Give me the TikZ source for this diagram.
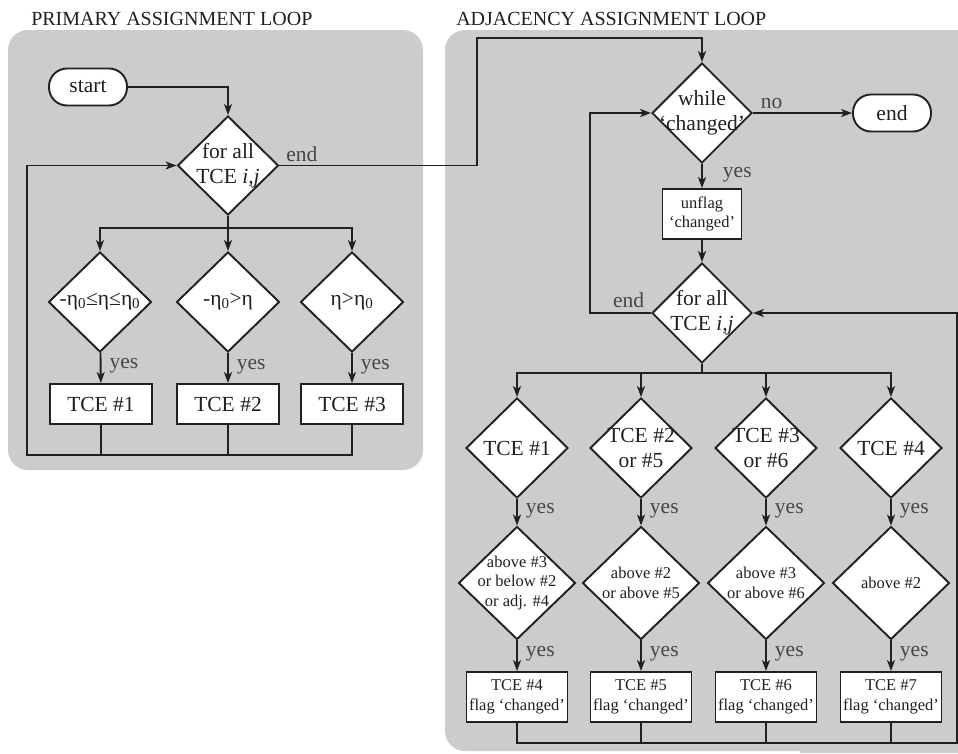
\documentclass[tikz,border=0pt]{standalone}
\usepackage{fontspec}
\setmainfont{Liberation Serif}
\usetikzlibrary{shapes.geometric,arrows.meta}
\definecolor{panel}{RGB}{204,204,204}
\definecolor{ink}{RGB}{32,32,32}
\definecolor{lblgray}{RGB}{70,70,70}

\begin{document}
\begin{tikzpicture}[x=1pt,y=-1pt,color=ink,line width=1.9pt,
    font=\rmfamily\fontsize{21.5}{25}\selectfont,
    dec/.style n args={3}{diamond,draw=ink,fill=white,inner sep=0pt,minimum width=#1,minimum height=#2,
        label={[align=center]center:{#3}}},
    sdec/.style n args={3}{diamond,draw=ink,fill=white,inner sep=0pt,minimum width=#1,minimum height=#2,
        label={[align=center,font=\rmfamily\fontsize{16.5}{19.5}\selectfont]center:{#3}}},
    box/.style 2 args={draw=ink,fill=white,inner sep=0pt,minimum width=#1,minimum height=#2,align=center},
    sbox/.style 2 args={box={#1}{#2},font=\rmfamily\fontsize{16.5}{19.5}\selectfont},
    term/.style={draw=ink,fill=white,rounded corners=18pt,inner sep=0pt,minimum width=78pt,minimum height=37pt},
    lbl/.style={text=lblgray,inner sep=0pt},
    yes/.style={lbl,anchor=base west,xshift=8pt,yshift=-1pt},
    arr/.style={-{Stealth[length=11pt,width=8pt,inset=3pt]}}]
    \useasboundingbox (0,0) rectangle (958,753);

    % panels
    \fill[panel,rounded corners=20pt] (8,30) rectangle (423,470);
    \fill[panel,rounded corners=20pt] (445,30) rectangle (958,751);
    \fill[panel] (800,30) rectangle (958,753);
    \node[anchor=base west,font=\rmfamily\fontsize{20}{24}\selectfont] (title1) at (27,25) {PRIMARY ASSIGNMENT LOOP};
    \node[anchor=base west,font=\rmfamily\fontsize{20}{24}\selectfont] (title2) at (452,25) {ADJACENCY ASSIGNMENT LOOP};

    % primary assignment loop
    \node[term] (start) at (88,87) {start};
    \node[dec={101pt}{99pt}{for all\\TCE \textit{i,j}}] (loop1) at (228,165.5) {};
    \node[dec={103pt}{100pt}{-η\textsubscript{0}≤η≤η\textsubscript{0}}] (c11) at (100,302) {};
    \node[dec={103pt}{100pt}{-η\textsubscript{0}>η}] (c12) at (228,302) {};
    \node[dec={103pt}{100pt}{η>η\textsubscript{0}}] (c13) at (352,302) {};
    \node[box={102pt}{40pt}] (t11) at (101,404) {TCE \#1};
    \node[box={102pt}{40pt}] (t12) at (228,404) {TCE \#2};
    \node[box={102pt}{40pt}] (t13) at (352,404) {TCE \#3};

    \coordinate (b1) at (228,228);
    \coordinate (r1) at (27,455);
    \draw[arr] (start) -| (loop1);
    \draw (loop1) -- (b1);
    \draw[arr] (b1) -| (c11);
    \draw[arr] (b1) -- (c12);
    \draw[arr] (b1) -| (c13);
    \draw[arr] (c11) -- node[yes]{yes} (t11);
    \draw[arr] (c12) -- node[yes]{yes} (t12);
    \draw[arr] (c13) -- node[yes]{yes} (t13);
    \draw (t11) -- (t11 |- r1);
    \draw (t12) -- (t12 |- r1);
    \draw[arr] (t13) |- (r1) |- (loop1);

    % adjacency assignment loop
    \node[dec={100pt}{100pt}{while\\`changed'}] (while) at (702,113) {};
    \node[term] (endn) at (892,113) {end};
    \node[sbox={79pt}{50pt}] (unflag) at (702,214) {unflag\\`changed'};
    \node[dec={100pt}{100pt}{for all\\TCE \textit{i,j}}] (loop2) at (702,313) {};

    \node[dec={102pt}{100pt}{TCE \#1}] (c21) at (517,448) {};
    \node[dec={102pt}{100pt}{TCE \#2\\or \#5}] (c22) at (641,448) {};
    \node[dec={102pt}{100pt}{TCE \#3\\or \#6}] (c23) at (766,448) {};
    \node[dec={102pt}{100pt}{TCE \#4}] (c24) at (891,448) {};
    \node[sdec={117pt}{113pt}{above \#3\\or below \#2\\or adj. \#4}] (d21) at (517,583) {};
    \node[sdec={117pt}{113pt}{above \#2\\or above \#5}] (d22) at (641,583) {};
    \node[sdec={117pt}{113pt}{above \#3\\or above \#6}] (d23) at (766,583) {};
    \node[sdec={117pt}{113pt}{above \#2}] (d24) at (891,583) {};
    \node[sbox={101pt}{50pt}] (t21) at (517,697) {TCE \#4\\flag `changed'};
    \node[sbox={101pt}{50pt}] (t22) at (641,697) {TCE \#5\\flag `changed'};
    \node[sbox={101pt}{50pt}] (t23) at (766,697) {TCE \#6\\flag `changed'};
    \node[sbox={101pt}{50pt}] (t24) at (891,697) {TCE \#7\\flag `changed'};

    \coordinate (j1) at (477,38);
    \coordinate (j2) at (590,113);
    \coordinate (b2) at (702,373);
    \coordinate (r2) at (957,743);
    \draw[arr] (loop1) -| node[lbl,pos=0,anchor=base west,xshift=6pt,yshift=4pt]{end} (j1) -| (while);
    \draw[arr] (while) -- node[lbl,pos=0,anchor=base west,xshift=7pt,yshift=5pt]{no} (endn);
    \draw[arr] (while) -- node[yes,xshift=12pt]{yes} (unflag);
    \draw[arr] (unflag) -- (loop2);
    \draw[arr] (loop2) -| node[lbl,pos=0,anchor=base east,xshift=-6pt,yshift=6pt]{end} (j2) -- (while);
    \draw (loop2) -- (b2);
    \draw[arr] (b2) -| (c21);
    \draw[arr] (b2) -| (c22);
    \draw[arr] (b2) -| (c23);
    \draw[arr] (b2) -| (c24);
    \draw[arr] (c21) -- node[yes]{yes} (d21);
    \draw[arr] (c22) -- node[yes]{yes} (d22);
    \draw[arr] (c23) -- node[yes]{yes} (d23);
    \draw[arr] (c24) -- node[yes]{yes} (d24);
    \draw[arr] (d21) -- node[yes]{yes} (t21);
    \draw[arr] (d22) -- node[yes]{yes} (t22);
    \draw[arr] (d23) -- node[yes]{yes} (t23);
    \draw[arr] (d24) -- node[yes]{yes} (t24);
    \draw (t22) -- (t22 |- r2);
    \draw (t23) -- (t23 |- r2);
    \draw (t24) -- (t24 |- r2);
    \draw[arr] (t21) |- (r2) |- (loop2);
\end{tikzpicture}
\end{document}
